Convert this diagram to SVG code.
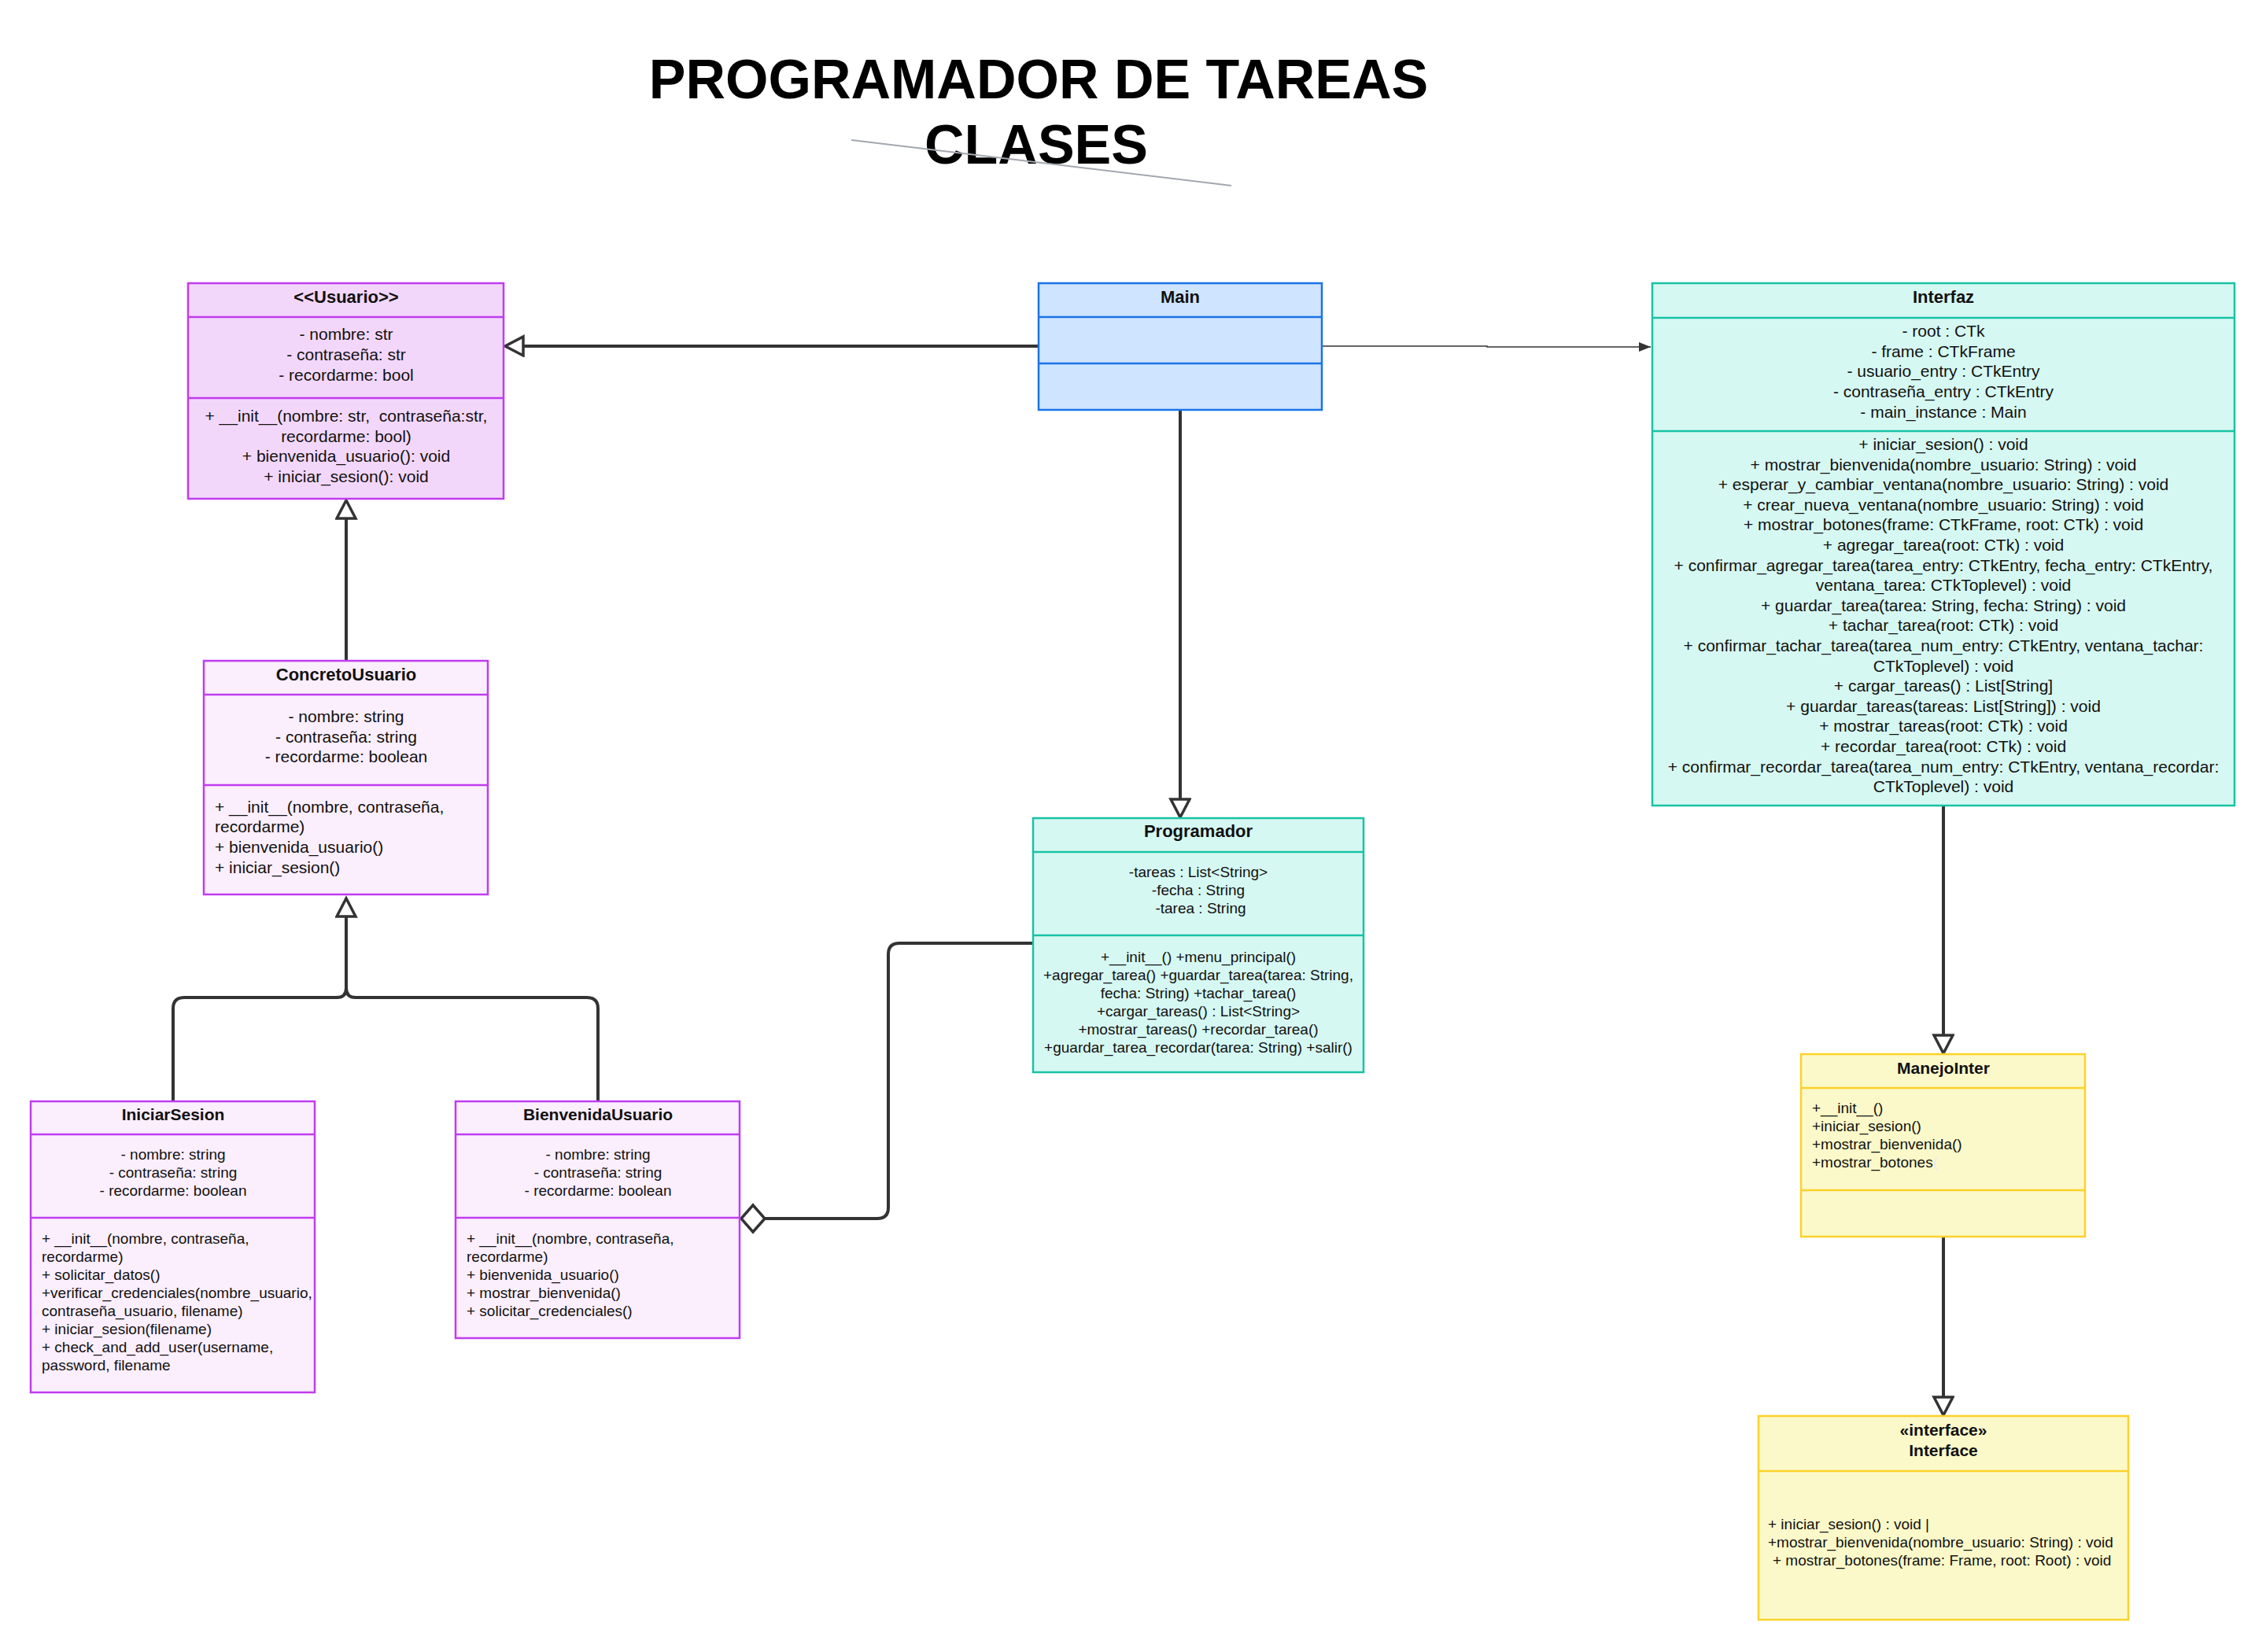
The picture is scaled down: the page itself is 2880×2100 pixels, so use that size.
<svg xmlns="http://www.w3.org/2000/svg" width="2880" height="2100" viewBox="0 0 2880 2100">
<style>
text{font-family:"Liberation Sans",Arial,sans-serif;fill:#111;}
.title{font-size:70px;font-weight:bold;text-anchor:middle;fill:#000;}
.hd{font-size:22px;font-weight:bold;text-anchor:middle;}
.hd2{font-size:21px;font-weight:bold;text-anchor:middle;}
.c21{font-size:21px;text-anchor:middle;}
.l21{font-size:21px;}
.c19{font-size:19px;text-anchor:middle;}
.l19{font-size:19px;}
.pk1{fill:#f3d7fb;stroke:#c03cf0;stroke-width:2.5;}
.pk2{fill:#fbeefd;stroke:#c03cf0;stroke-width:2.5;}
.pkl{stroke:#c03cf0;stroke-width:2.5;}
.bl{fill:#cfe4fe;stroke:#1a73e8;stroke-width:2.5;}
.bll{stroke:#1a73e8;stroke-width:2.5;}
.tl{fill:#d6f8f2;stroke:#19c2a6;stroke-width:2.5;}
.tll{stroke:#19c2a6;stroke-width:2.5;}
.yl{fill:#fbf9c9;stroke:#fcd12b;stroke-width:2.5;}
.yll{stroke:#fcd12b;stroke-width:2.5;}
.conn{fill:none;stroke:#333;stroke-width:4;}
.thin{fill:none;stroke:#333;stroke-width:1.5;}
</style>
<defs>
<marker id="tri" markerUnits="userSpaceOnUse" markerWidth="34" markerHeight="34" refX="26" refY="14" orient="auto">
<path d="M3,2 L26,14 L3,26 Z" fill="#fff" stroke="#333" stroke-width="3.5" stroke-linejoin="miter"/>
</marker>
<marker id="dia" markerUnits="userSpaceOnUse" markerWidth="40" markerHeight="40" refX="34" refY="20" orient="auto">
<path d="M4,20 L19,3 L34,20 L19,37 Z" fill="#fff" stroke="#333" stroke-width="3.5"/>
</marker>
<marker id="arr" markerUnits="userSpaceOnUse" markerWidth="20" markerHeight="16" refX="16" refY="8" orient="auto">
<path d="M1,2 L16,8 L1,14 Z" fill="#333"/>
</marker>
</defs>
<rect width="2880" height="2100" fill="#fff"/>

<g id="title">
<text class="title" x="1320" y="125">PROGRAMADOR DE TAREAS</text>
<text class="title" x="1317" y="208">CLASES</text>
<line x1="1082" y1="178" x2="1565" y2="236" stroke="#a3a7b0" stroke-width="2"/>
</g>

<g id="connectors">
<path class="conn" d="M1320,440 H642" marker-end="url(#tri)"/>
<path class="thin" d="M1680,440 H1890 V441 H2098" marker-end="url(#arr)"/>
<path class="conn" d="M1500,521 V1039" marker-end="url(#tri)"/>
<path class="conn" d="M440,840 V636" marker-end="url(#tri)"/>
<path class="conn" d="M220,1400 V1282 Q220,1268 234,1268 H428 Q440,1268 440,1256 V1142" marker-end="url(#tri)"/>
<path class="conn" d="M760,1400 V1282 Q760,1268 746,1268 H452 Q440,1268 440,1256"/>
<path class="conn" d="M1313,1199 H1143 Q1129,1199 1129,1213 V1535 Q1129,1549 1115,1549 H942" marker-end="url(#dia)"/>
<path class="conn" d="M2470,1024 V1339" marker-end="url(#tri)"/>
<path class="conn" d="M2470,1572 V1799" marker-end="url(#tri)"/>
</g>

<g id="usuario">
<rect class="pk1" x="239" y="360" width="401" height="274"/>
<line class="pkl" x1="239" y1="403" x2="640" y2="403"/>
<line class="pkl" x1="239" y1="506" x2="640" y2="506"/>
<text class="hd" x="440" y="385">&lt;&lt;Usuario&gt;&gt;</text>
<text class="c21" x="440" y="432">- nombre: str</text>
<text class="c21" x="440" y="458">- contraseña: str</text>
<text class="c21" x="440" y="484">- recordarme: bool</text>
<text class="c21" x="440" y="536" xml:space="preserve">+ __init__(nombre: str,  contraseña:str,</text>
<text class="c21" x="440" y="562">recordarme: bool)</text>
<text class="c21" x="440" y="587">+ bienvenida_usuario(): void</text>
<text class="c21" x="440" y="613">+ iniciar_sesion(): void</text>
</g>

<g id="main">
<rect class="bl" x="1320" y="360" width="360" height="161"/>
<line class="bll" x1="1320" y1="403" x2="1680" y2="403"/>
<line class="bll" x1="1320" y1="462" x2="1680" y2="462"/>
<text class="hd" x="1500" y="385">Main</text>
</g>

<g id="interfaz">
<rect class="tl" x="2100" y="360" width="740" height="664"/>
<line class="tll" x1="2100" y1="404" x2="2840" y2="404"/>
<line class="tll" x1="2100" y1="548" x2="2840" y2="548"/>
<text class="hd" x="2470" y="385">Interfaz</text>
<text class="c21" x="2470" y="428">- root : CTk</text>
<text class="c21" x="2470" y="454">- frame : CTkFrame</text>
<text class="c21" x="2470" y="479">- usuario_entry : CTkEntry</text>
<text class="c21" x="2470" y="505">- contraseña_entry : CTkEntry</text>
<text class="c21" x="2470" y="531">- main_instance : Main</text>
<text class="c21" x="2470" y="572">+ iniciar_sesion() : void</text>
<text class="c21" x="2470" y="598">+ mostrar_bienvenida(nombre_usuario: String) : void</text>
<text class="c21" x="2470" y="623">+ esperar_y_cambiar_ventana(nombre_usuario: String) : void</text>
<text class="c21" x="2470" y="649">+ crear_nueva_ventana(nombre_usuario: String) : void</text>
<text class="c21" x="2470" y="674">+ mostrar_botones(frame: CTkFrame, root: CTk) : void</text>
<text class="c21" x="2470" y="700">+ agregar_tarea(root: CTk) : void</text>
<text class="c21" x="2470" y="726">+ confirmar_agregar_tarea(tarea_entry: CTkEntry, fecha_entry: CTkEntry,</text>
<text class="c21" x="2470" y="751">ventana_tarea: CTkToplevel) : void</text>
<text class="c21" x="2470" y="777">+ guardar_tarea(tarea: String, fecha: String) : void</text>
<text class="c21" x="2470" y="802">+ tachar_tarea(root: CTk) : void</text>
<text class="c21" x="2470" y="828">+ confirmar_tachar_tarea(tarea_num_entry: CTkEntry, ventana_tachar:</text>
<text class="c21" x="2470" y="854">CTkToplevel) : void</text>
<text class="c21" x="2470" y="879">+ cargar_tareas() : List[String]</text>
<text class="c21" x="2470" y="905">+ guardar_tareas(tareas: List[String]) : void</text>
<text class="c21" x="2470" y="930">+ mostrar_tareas(root: CTk) : void</text>
<text class="c21" x="2470" y="956">+ recordar_tarea(root: CTk) : void</text>
<text class="c21" x="2470" y="982">+ confirmar_recordar_tarea(tarea_num_entry: CTkEntry, ventana_recordar:</text>
<text class="c21" x="2470" y="1007">CTkToplevel) : void</text>
</g>

<g id="concretousuario">
<rect class="pk2" x="259" y="840" width="361" height="297"/>
<line class="pkl" x1="259" y1="883" x2="620" y2="883"/>
<line class="pkl" x1="259" y1="998" x2="620" y2="998"/>
<text class="hd" x="440" y="865">ConcretoUsuario</text>
<text class="c21" x="440" y="918">- nombre: string</text>
<text class="c21" x="440" y="944">- contraseña: string</text>
<text class="c21" x="440" y="969">- recordarme: boolean</text>
<text class="l21" x="273" y="1033">+ __init__(nombre, contraseña,</text>
<text class="l21" x="273" y="1058">recordarme)</text>
<text class="l21" x="273" y="1084">+ bienvenida_usuario()</text>
<text class="l21" x="273" y="1110">+ iniciar_sesion()</text>
</g>

<g id="programador">
<rect class="tl" x="1313" y="1040" width="420" height="323"/>
<line class="tll" x1="1313" y1="1083" x2="1733" y2="1083"/>
<line class="tll" x1="1313" y1="1189" x2="1733" y2="1189"/>
<text class="hd" x="1523" y="1064">Programador</text>
<text class="c19" x="1523" y="1115">-tareas : List&lt;String&gt;</text>
<text class="c19" x="1523" y="1138">-fecha : String</text>
<text class="c19" x="1526" y="1161">-tarea : String</text>
<text class="c19" x="1523" y="1223">+__init__() +menu_principal()</text>
<text class="c19" x="1523" y="1246">+agregar_tarea() +guardar_tarea(tarea: String,</text>
<text class="c19" x="1523" y="1269">fecha: String) +tachar_tarea()</text>
<text class="c19" x="1523" y="1292">+cargar_tareas() : List&lt;String&gt;</text>
<text class="c19" x="1523" y="1315">+mostrar_tareas() +recordar_tarea()</text>
<text class="c19" x="1523" y="1338">+guardar_tarea_recordar(tarea: String) +salir()</text>
</g>

<g id="iniciarsesion">
<rect class="pk2" x="39" y="1400" width="361" height="370"/>
<line class="pkl" x1="39" y1="1442" x2="400" y2="1442"/>
<line class="pkl" x1="39" y1="1548" x2="400" y2="1548"/>
<text class="hd2" x="220" y="1424">IniciarSesion</text>
<text class="c19" x="220" y="1474">- nombre: string</text>
<text class="c19" x="220" y="1497">- contraseña: string</text>
<text class="c19" x="220" y="1520">- recordarme: boolean</text>
<text class="l19" x="53" y="1581">+ __init__(nombre, contraseña,</text>
<text class="l19" x="53" y="1604">recordarme)</text>
<text class="l19" x="53" y="1627">+ solicitar_datos()</text>
<text class="l19" x="53" y="1650">+verificar_credenciales(nombre_usuario,</text>
<text class="l19" x="53" y="1673">contraseña_usuario, filename)</text>
<text class="l19" x="53" y="1696">+ iniciar_sesion(filename)</text>
<text class="l19" x="53" y="1719">+ check_and_add_user(username,</text>
<text class="l19" x="53" y="1742">password, filename</text>
</g>

<g id="bienvenidausuario">
<rect class="pk2" x="579" y="1400" width="361" height="301"/>
<line class="pkl" x1="579" y1="1442" x2="940" y2="1442"/>
<line class="pkl" x1="579" y1="1548" x2="940" y2="1548"/>
<text class="hd2" x="760" y="1424">BienvenidaUsuario</text>
<text class="c19" x="760" y="1474">- nombre: string</text>
<text class="c19" x="760" y="1497">- contraseña: string</text>
<text class="c19" x="760" y="1520">- recordarme: boolean</text>
<text class="l19" x="593" y="1581">+ __init__(nombre, contraseña,</text>
<text class="l19" x="593" y="1604">recordarme)</text>
<text class="l19" x="593" y="1627">+ bienvenida_usuario()</text>
<text class="l19" x="593" y="1650">+ mostrar_bienvenida()</text>
<text class="l19" x="593" y="1673">+ solicitar_credenciales()</text>
</g>

<g id="manejointer">
<rect class="yl" x="2289" y="1340" width="361" height="232"/>
<line class="yll" x1="2289" y1="1383" x2="2650" y2="1383"/>
<line class="yll" x1="2289" y1="1513" x2="2650" y2="1513"/>
<text class="hd2" x="2470" y="1365">ManejoInter</text>
<text class="l19" x="2303" y="1415">+__init__()</text>
<text class="l19" x="2303" y="1438">+iniciar_sesion()</text>
<text class="l19" x="2303" y="1461">+mostrar_bienvenida()</text>
<text class="l19" x="2303" y="1484">+mostrar_botones<tspan fill="#e6ecee">(</tspan></text>
</g>

<g id="interface">
<rect class="yl" x="2235" y="1800" width="470" height="259"/>
<line class="yll" x1="2235" y1="1870" x2="2705" y2="1870"/>
<text class="hd2" x="2470" y="1825">«interface»</text>
<text class="hd2" x="2470" y="1851">Interface</text>
<text class="l19" x="2247" y="1944">+ iniciar_sesion() : void |</text>
<text class="l19" x="2247" y="1967">+mostrar_bienvenida(nombre_usuario: String) : void</text>
<text class="l19" x="2253" y="1990">+ mostrar_botones(frame: Frame, root: Root) : void</text>
</g>
</svg>
